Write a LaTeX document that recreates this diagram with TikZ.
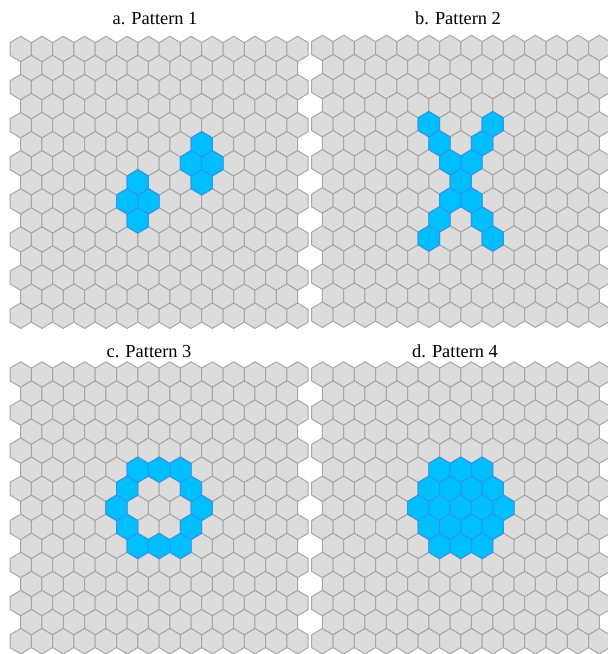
\documentclass[tikz,border=0pt]{standalone}
\usepackage{fontspec}
\setmainfont{Liberation Serif}
\usepackage{tikz}
\usetikzlibrary{positioning,calc}
\usepackage{xcolor}

\definecolor{cellgray}{HTML}{DCDCDC}
\definecolor{cellline}{HTML}{A6A6A6}
\definecolor{hotblue}{HTML}{00BFFF}
\definecolor{hotline}{HTML}{2E93F5}

\tikzset{
  cell/.style={draw=cellline,fill=cellgray,line width=0.5pt,line join=round},
  hot/.style={draw=hotline,fill=hotblue,line width=0.5pt,line join=round},
  paneltitle/.style={anchor=base,font=\fontsize{9.2}{11}\selectfont},
}

% one pointy-top hexagon, centre at (#2,#3)
\newcommand{\hexcell}[3]{%
  \draw[#1] (#2,#3) ++(0,-12.7) -- ++(10.65,6.35) -- ++(0,12.7) -- ++(-10.65,6.35)
    -- ++(-10.65,-6.35) -- ++(0,-12.7) -- cycle;}

% full board of 15 rows, origin = centre of first cell
\newcommand{\hexboard}[2]{%
  \foreach \r in {0,...,14}{
    \pgfmathtruncatemacro{\nc}{13-mod(\r,2)}
    \pgfmathsetmacro{\sh}{10.65*mod(\r,2)}
    \foreach \c in {0,...,\nc}{
      \hexcell{cell}{#1+\sh+21.3*\c}{#2+19.05*\r}
    }}}

% highlighted cells, given as row/col
\newcommand{\hotcells}[3]{%
  \foreach \r/\c in {#3}{
    \pgfmathsetmacro{\sh}{10.65*mod(\r,2)}
    \hexcell{hot}{#1+\sh+21.3*\c}{#2+19.05*\r}
  }}

\begin{document}
\begin{tikzpicture}[x=0.5pt,y=-0.5pt]
\useasboundingbox (0,0) rectangle (608,654);

% a. Pattern 1
\node[paneltitle] (ta) at (155,24) {a. Pattern 1};
\hexboard{20.65}{49}
\hotcells{20.65}{49}{5/8,6/8,6/9,7/8,7/5,8/5,8/6,9/5}

% b. Pattern 2
\node[paneltitle] (tb) at (458,24) {b. Pattern 2};
\hexboard{322.35}{48}
\hotcells{322.35}{48}{4/5,4/8,5/5,5/7,6/6,6/7,7/6,8/6,8/7,9/5,9/7,10/5,10/8}

% c. Pattern 3
\node[paneltitle] (tc) at (149,357) {c. Pattern 3};
\hexboard{20.65}{374.5}
\hotcells{20.65}{374.5}{5/5,5/6,5/7,6/5,6/8,7/4,7/8,8/5,8/8,9/5,9/6,9/7}

% d. Pattern 4
\node[paneltitle] (td) at (455,357) {d. Pattern 4};
\hexboard{322.35}{374.5}
\hotcells{322.35}{374.5}{5/5,5/6,5/7,6/5,6/6,6/7,6/8,7/4,7/5,7/6,7/7,7/8,8/5,8/6,8/7,8/8,9/5,9/6,9/7}
\end{tikzpicture}
\end{document}
